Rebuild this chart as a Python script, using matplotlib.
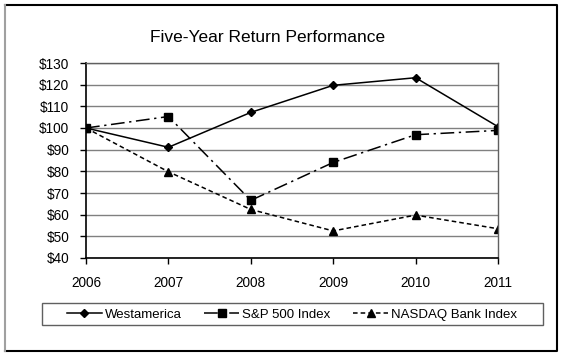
import matplotlib.pyplot as plt
from matplotlib.patches import Rectangle
from matplotlib.lines import Line2D

# data
years = [2006, 2007, 2008, 2009, 2010, 2011]
westamerica = [100, 91.1, 107.2, 119.7, 123.2, 100.6]
sp500 = [100, 105.3, 66.6, 84.1, 96.9, 98.9]
nasdaq_bank = [100, 79.8, 62.4, 52.5, 59.8, 53.5]
y_ticks = [40, 50, 60, 70, 80, 90, 100, 110, 120, 130]

plt.rcParams['font.family'] = ['Liberation Sans', 'DejaVu Sans']

W, H = 561, 357
fig = plt.figure(figsize=(W / 100, H / 100), dpi=100)
ax = fig.add_axes([86 / W, 1 - 258 / H, 412 / W, 195 / H])

ax.plot(years, westamerica, color='black', lw=1.1, ls='-',
        marker='D', ms=4, label='Westamerica')
ax.plot(years, sp500, color='black', lw=1.1, ls=(0, (9, 3, 1.5, 3)),
        marker='s', ms=5.3, label='S&P 500 Index')
ax.plot(years, nasdaq_bank, color='black', lw=1.1, ls=(0, (3, 2)),
        marker='^', ms=5.3, label='NASDAQ Bank Index')

ax.set_xlim(years[0], years[-1])
ax.set_ylim(40, 130)
ax.set_xticks(years)
ax.set_xticklabels([str(y) for y in years])
ax.set_yticks(y_ticks)
ax.set_yticklabels(['$%d' % v for v in y_ticks])
ax.tick_params(labelsize=9.8, length=4, width=1, colors='black', direction='out')
ax.tick_params(axis='x', pad=9)
ax.tick_params(axis='y', pad=8)
ax.yaxis.grid(True, color='#808080', lw=1)
ax.set_axisbelow(True)
for side in ['left', 'bottom']:
    ax.spines[side].set_color('black')
    ax.spines[side].set_linewidth(1.2)
for side in ['top', 'right']:
    ax.spines[side].set_color('#606060')
    ax.spines[side].set_linewidth(1)

fig.text(268 / W, 1 - 37 / H, 'Five-Year Return Performance',
         ha='center', va='center', fontsize=12.5)

# legend without its own frame, box drawn separately
fig.legend(loc='center', ncol=3, bbox_to_anchor=(292 / W, 1 - 314.5 / H),
           fontsize=9.5, handlelength=2.65, handletextpad=0.25,
           columnspacing=1.7, frameon=False, borderpad=0, borderaxespad=0)
fig.add_artist(Rectangle((42 / W, 1 - 325 / H), 501 / W, 22 / H,
                         transform=fig.transFigure, fill=False,
                         edgecolor='#606060', lw=1))

# outer frame
x0, x1 = 5 / W, 557 / W
y0, y1 = 1 - 351 / H, 1 - 5 / H
fig.add_artist(Line2D([x0, x1, x1, x0], [y1, y1, y0, y0], color='black',
                      lw=1.5, transform=fig.transFigure))
fig.add_artist(Line2D([x0, x0], [y0, y1], color='#a0a0a0', lw=1.5,
                      transform=fig.transFigure))

fig.savefig('out.png', dpi=100, facecolor='white')
